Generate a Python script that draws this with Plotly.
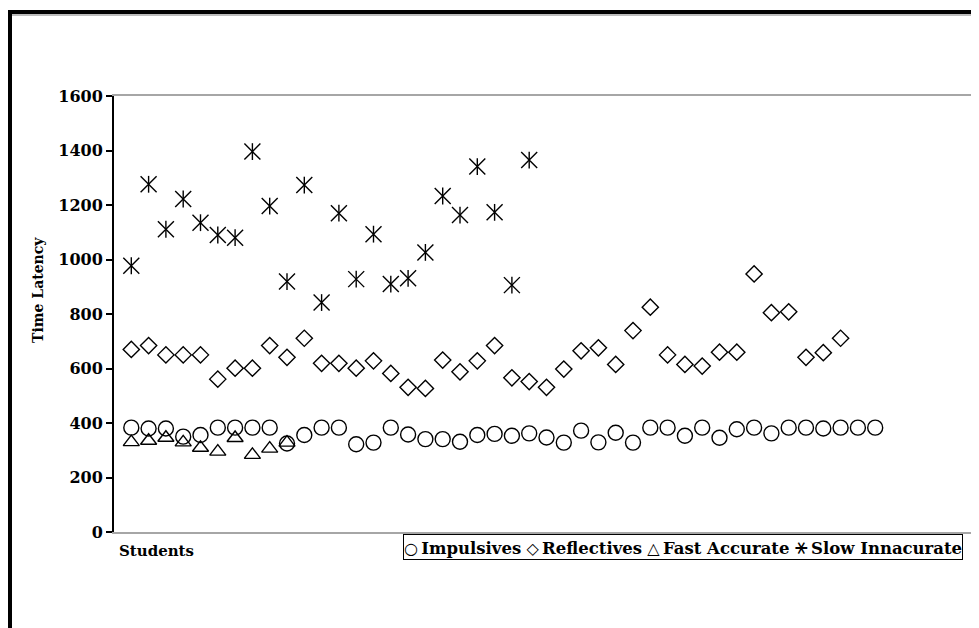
import plotly.graph_objects as go

# ---- data ----
impulsives = [383, 380, 380, 350, 356, 383, 383, 383, 383, 325, 356, 383, 383, 322, 328,
              383, 358, 341, 341, 331, 356, 360, 353, 362, 347, 328, 372, 329, 364, 328,
              383, 383, 353, 383, 346, 377, 383, 362, 383, 383, 380, 383, 383, 383]
reflectives = [670, 684, 650, 650, 650, 561, 601, 601, 684, 641, 711, 619, 619, 601, 628,
               582, 531, 527, 631, 588, 628, 684, 566, 552, 531, 598, 665, 676, 615, 739,
               825, 650, 615, 609, 660, 660, 947, 805, 808, 641, 658, 711]
fast_accurate = [330, 335, 346, 329, 309, 295, 345, 283, 306, 328]
slow_innacurate = [977, 1276, 1111, 1222, 1135, 1090, 1080, 1396, 1196, 919, 1273, 842,
                   1170, 928, 1093, 910, 931, 1026, 1233, 1163, 1341, 1173, 906, 1365]
series_names = ["Impulsives", "Reflectives", "Fast Accurate", "Slow Innacurate"]
legend_glyphs = ["\u25CB", "\u25C7", "\u25B3", "\u26B9"]
glyph_sizes = [16, 16, 16, 21]
y_ticks = [0, 200, 400, 600, 800, 1000, 1200, 1400, 1600]

FONT = "DejaVu Serif"
OFF = 8                      # page body margin of the rendered html
W, H = 971, 620
L, R, T, B = 106, 0, 88, 96
PW, PH = W - L - R, H - T - B


def students(vals):
    return list(range(1, len(vals) + 1))


def px(xs):
    """screen x (page pixels) -> paper fraction"""
    return (xs - OFF - L) / PW


def py(ys):
    """screen y (page pixels) -> paper fraction"""
    return (H - B - (ys - OFF)) / PH


fig = go.Figure()
mk_line = dict(color="black", width=1.4)
fig.add_trace(go.Scatter(x=students(impulsives), y=impulsives, mode="markers", name=series_names[0],
                         marker=dict(symbol="circle-open", size=15, color="black", line=mk_line)))
fig.add_trace(go.Scatter(x=students(reflectives), y=reflectives, mode="markers", name=series_names[1],
                         marker=dict(symbol="diamond-open", size=12.5, color="black", line=mk_line)))
fig.add_trace(go.Scatter(x=students(fast_accurate), y=fast_accurate, mode="markers", name=series_names[2],
                         marker=dict(symbol="triangle-up-open", size=14, color="black", line=mk_line)))
fig.add_trace(go.Scatter(x=students(slow_innacurate), y=slow_innacurate, mode="markers",
                         name=series_names[3], legendgroup="slow",
                         marker=dict(symbol="x-thin-open", size=16, color="black", line=mk_line)))
fig.add_trace(go.Scatter(x=students(slow_innacurate), y=slow_innacurate, mode="markers",
                         name=series_names[3], legendgroup="slow",
                         marker=dict(symbol="line-ns-open", size=12, color="black", line=mk_line)))

legend_text = " ".join(
    f"<span style='font-family:DejaVu Sans;font-weight:normal;font-size:{s}px'>{g}</span>&#8201;<b>{n}</b>"
    for g, s, n in zip(legend_glyphs, glyph_sizes, series_names)
)

fig.update_layout(
    width=W, height=H,
    margin=dict(l=L, r=R, t=T, b=B, autoexpand=False),
    paper_bgcolor="white", plot_bgcolor="white",
    font=dict(family=FONT, color="black"),
    showlegend=False,
    xaxis=dict(range=[0, 50], showgrid=False, zeroline=False, showticklabels=False, ticks="",
               showline=True, linecolor="#a6a6a6", linewidth=1.5, mirror=True),
    yaxis=dict(range=[0, 1600], tickvals=y_ticks, showgrid=False, zeroline=False,
               showline=True, linecolor="black", linewidth=2,
               ticks="outside", ticklen=6, tickwidth=2, tickcolor="black",
               tickfont=dict(family=FONT, size=16, color="black", weight="bold")),
    annotations=[
        dict(text="<b>Time Latency</b>", xref="paper", yref="paper", x=px(38), y=py(290),
             xanchor="center", yanchor="middle", textangle=-90, showarrow=False,
             font=dict(family=FONT, size=14, color="black")),
        dict(text="<b>Students</b>", xref="paper", yref="paper", x=px(117), y=py(551),
             xanchor="left", yanchor="middle", showarrow=False,
             font=dict(family=FONT, size=15, color="black")),
        dict(text=legend_text, xref="paper", yref="paper", x=px(403), y=py(534),
             xanchor="left", yanchor="top", showarrow=False, align="left",
             bordercolor="black", borderwidth=1, borderpad=0, bgcolor="white",
             font=dict(family=FONT, size=16.5, color="black")),
    ],
    shapes=[
        dict(type="rect", xref="paper", yref="paper", x0=px(10), x1=px(1010), y0=py(700), y1=py(12),
             line=dict(color="black", width=4), layer="above"),
        dict(type="line", xref="paper", yref="paper", x0=px(12), x1=px(1000), y0=py(15), y1=py(15),
             line=dict(color="#a6a6a6", width=1.5), layer="above"),
    ],
)

fig.write_html("out.html")
